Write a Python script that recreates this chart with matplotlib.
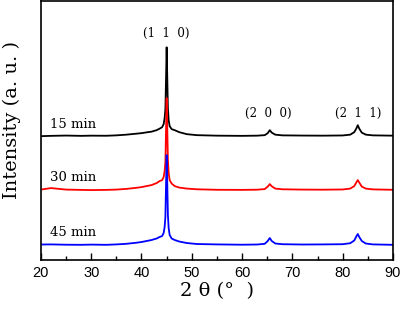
import matplotlib
matplotlib.use("Agg")
import matplotlib.pyplot as plt
from matplotlib.ticker import MultipleLocator

# 2theta positions (deg)
two_theta = [20, 22, 25, 28, 30, 33, 35, 37, 39, 40, 41, 42, 43, 43.6, 44.1, 44.4, 44.6, 44.75,
             44.9, 45.0, 45.1, 45.25, 45.4, 45.6, 46.0, 46.6, 47.5, 49, 51, 55, 60, 63, 64.5, 65.1,
             65.5, 65.9, 66.6, 68, 72, 76, 80, 81.5, 82.3, 82.7, 83.0, 83.3, 83.8, 84.6, 86, 90]

# offset intensities (a.u.)
i_15 = [124, 124.3, 124.6, 124.3, 124.5, 124.4, 124.8, 125.5, 126.5, 127, 127.8, 128.5, 130, 131.5,
        133, 136, 142, 151, 186, 213, 188, 152, 140, 134, 131, 130, 128, 126, 125, 124.5, 124.3,
        124.5, 125, 127, 130, 127.5, 125.5, 124.8, 124.6, 124.5, 124.7, 125.5, 128, 131.5, 135,
        131.5, 127.5, 125.5, 124.8, 124.5]
i_30 = [70.5, 72, 70.5, 70.2, 70, 70.2, 70.5, 71.2, 72.3, 73, 74, 75, 77, 79, 80, 83, 89, 98, 135,
        162, 138, 100, 87, 80, 76.5, 74, 72.5, 71.5, 70.8, 70.3, 70.2, 70.4, 71, 73.5, 76, 73.8,
        71.5, 70.8, 70.5, 70.4, 70.6, 71.5, 74, 77.5, 80, 77.5, 73.5, 71.5, 70.7, 70.3]
i_45 = [15.5, 15.6, 15.3, 15.2, 15.4, 15.2, 15.6, 16.2, 17.3, 18, 19, 20, 21.5, 23, 24, 27, 33, 43,
        80, 105, 82, 45, 32, 25, 21.5, 20, 18.5, 17, 16, 15.6, 15.3, 15.5, 16.2, 19, 22, 19, 16.5,
        15.8, 15.5, 15.6, 15.8, 16.8, 19.5, 23.5, 26, 23, 19, 16.5, 15.6, 15.2]

series_labels = ["15 min", "30 min", "45 min"]
label_y = [136, 83, 28]
peak_labels = ["(1  1  0)", "(2  0  0)", "(2  1  1)"]
peak_x = [45, 65.3, 83]
peak_y = [227, 147, 147]

serif = "DejaVu Serif"

fig = plt.figure(figsize=(4.01, 3.12), dpi=100)
ax = fig.add_axes([0.102, 0.1667, 0.878, 0.829])

ax.plot(two_theta, i_15, color="black", lw=1.3)
ax.plot(two_theta, i_30, color="red", lw=1.3)
ax.plot(two_theta, i_45, color="blue", lw=1.3)

for lab, y in zip(series_labels, label_y):
    ax.text(21.9, y, lab, family=serif, fontsize=9.5, va="center", ha="left")
for lab, x, y in zip(peak_labels, peak_x, peak_y):
    ax.text(x, y, lab, family=serif, fontsize=8.5, va="center", ha="center")

ax.set_xlim(20, 90)
ax.set_ylim(0, 259)
ax.xaxis.set_major_locator(MultipleLocator(10))
ax.xaxis.set_minor_locator(MultipleLocator(5))
ax.tick_params(axis="x", which="major", direction="in", length=5, width=1, labelsize=10.5, pad=4)
ax.tick_params(axis="x", which="minor", direction="in", length=3, width=1)
ax.set_yticks([])
for lbl in ax.get_xticklabels():
    lbl.set_family("Liberation Sans")
for s in ax.spines.values():
    s.set_linewidth(1.2)

ax.set_xlabel("2 θ (°  )", family=serif, fontsize=14, labelpad=2)
ax.set_ylabel("Intensity (a. u. )", family=serif, fontsize=14)
ax.yaxis.set_label_coords(-0.057, 0.54)

fig.savefig("out.png", dpi=100)
